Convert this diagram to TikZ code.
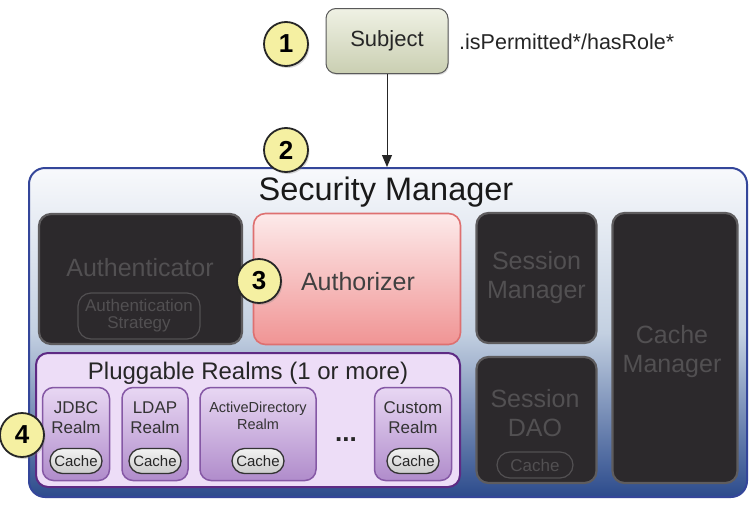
\documentclass[tikz,border=0pt]{standalone}
\usepackage{fontspec}
\setmainfont{Liberation Sans}
\usetikzlibrary{arrows.meta,shadows}
\definecolor{smtop}{HTML}{F8F9FC}
\definecolor{smmid}{HTML}{C3D0E1}
\definecolor{smbot}{HTML}{2C4B8C}
\definecolor{smline}{HTML}{34469A}
\definecolor{darkfill}{HTML}{2C292C}
\definecolor{darkline}{HTML}{5E5C5E}
\definecolor{darktext}{HTML}{525052}
\definecolor{pinktop}{HTML}{FDEAEA}
\definecolor{pinkbot}{HTML}{F09494}
\definecolor{pinkline}{HTML}{DE7070}
\definecolor{lavfill}{HTML}{EDDDF7}
\definecolor{lavline}{HTML}{5E2A84}
\definecolor{realmtop}{HTML}{E8D7F3}
\definecolor{realmbot}{HTML}{B08CCB}
\definecolor{realmline}{HTML}{8558A5}
\definecolor{subjtop}{HTML}{EFF1E4}
\definecolor{subjbot}{HTML}{CACFB2}
\definecolor{numfill}{HTML}{F5F0A2}
\begin{document}
\begin{tikzpicture}[x=1pt,y=-1pt,
  every node/.style={font=\fontsize{20}{22}\selectfont, align=center, inner sep=0pt},
  numcircle/.style={circle, draw=black!85, line width=1.8pt, fill=numfill, minimum size=44pt,
     font=\fontsize{26}{28}\selectfont\bfseries, drop shadow={shadow xshift=1.5pt, shadow yshift=-2pt, opacity=0.3}},
  subjbox/.style={rectangle, rounded corners=10pt, draw=black!65, line width=1pt, top color=subjtop, bottom color=subjbot,
     minimum width=122pt, minimum height=65pt, font=\fontsize{22}{24}\selectfont, text=black!85,
     drop shadow={shadow xshift=1pt, shadow yshift=-1.5pt, opacity=0.25}},
  smbox/.style={rectangle, rounded corners=16pt, draw=smline, line width=2pt, top color=smtop, bottom color=smbot, middle color=smmid},
  darkbox/.style={rectangle, rounded corners=12pt, draw=darkline, line width=2.2pt, fill=darkfill, text=darktext,
     font=\fontsize{25}{29}\selectfont},
  pinkbox/.style={rectangle, rounded corners=12pt, draw=pinkline, line width=1.6pt, top color=pinktop, bottom color=pinkbot},
  lavbox/.style={rectangle, rounded corners=12pt, draw=lavline, line width=2pt, fill=lavfill},
  realmbox/.style={rectangle, rounded corners=11pt, draw=realmline, line width=1.5pt, top color=realmtop, bottom color=realmbot},
  realmtext/.style={font=\fontsize{17}{20}\selectfont, text=black!80},
  cachepill/.style={rectangle, rounded corners=12.5pt, draw=black!80, line width=1.3pt, top color=white!95!black, bottom color=black!20,
     minimum width=52pt, minimum height=25pt, font=\fontsize{15}{16}\selectfont, text=black!85},
  darkpill/.style={rectangle, rounded corners=13pt, draw=darktext, line width=1.2pt, text=darktext},
  conn/.style={-{Triangle[length=12pt,width=10pt]}, line width=1pt, draw=black!85}
]
\useasboundingbox (0,0) rectangle (751,506);
\fill[white] (0,0) rectangle (751,506);

% Subject
\node[subjbox] (subject) at (387,41) {Subject};
\node[anchor=west, text=black!85, font=\fontsize{21.5}{24}\selectfont] (perm) at (459,42) {.isPermitted*/hasRole*};
\node[numcircle] (n1) at (286,44) {1};

% Security manager
\node[smbox, minimum width=718pt, minimum height=329pt] (sm) at (388,332.5) {};
\node[font=\fontsize{32.5}{36}\selectfont, text=black!90] (smtitle) at (386,192) {Security Manager};
\draw[conn] (subject.south) -- (subject.south |- sm.north);
\node[numcircle] (n2) at (286,150) {2};

% Authenticator
\node[darkbox, minimum width=203pt, minimum height=130pt] (authn) at (140.5,279) {};
\node[darkbox, draw=none, fill=none] (authntext) at (140,268) {Authenticator};
\node[darkpill, minimum width=122pt, minimum height=46pt, font=\fontsize{17}{17}\selectfont] (strategy) at (139,316) {Authentication\\Strategy};

% Authorizer
\node[pinkbox, minimum width=207pt, minimum height=131pt] (authz) at (357,279) {};
\node[text=black!75, font=\fontsize{25}{29}\selectfont] (authztext) at (358,282) {Authorizer};
\node[numcircle] (n3) at (259,281) {3};

% Session manager
\node[darkbox, minimum width=120pt, minimum height=130pt] (sessmgr) at (536.5,278) {Session\\Manager};
% Session DAO
\node[darkbox, minimum width=120pt, minimum height=126pt] (sessdao) at (536.5,420) {};
\node[darkbox, draw=none, fill=none] (sessdaotext) at (535,413) {Session\\DAO};
\node[darkpill, minimum width=76pt, minimum height=26pt, font=\fontsize{17}{17}\selectfont] (daocache) at (535,465) {Cache};
% Cache manager
\node[darkbox, minimum width=125pt, minimum height=270pt] (cachemgr) at (675,348) {};
\node[darkbox, draw=none, fill=none] (cachemgrtext) at (672,352) {Cache\\Manager};

% Pluggable realms
\node[lavbox, minimum width=424pt, minimum height=134pt] (realms) at (248,420) {};
\node[font=\fontsize{24}{26}\selectfont, text=black!85] (realmstitle) at (248,373) {Pluggable Realms (1 or more)};

\node[realmbox, minimum width=67pt, minimum height=93pt] (jdbc) at (76,434) {};
\node[realmbox, minimum width=66pt, minimum height=93pt] (ldap) at (155,434) {};
\node[realmbox, minimum width=116pt, minimum height=93pt] (ad) at (258,434) {};
\node[realmbox, minimum width=77pt, minimum height=93pt] (custom) at (413,434) {};

\node[realmtext] (jdbct) at (76,418) {JDBC\\Realm};
\node[realmtext] (ldapt) at (155,418) {LDAP\\Realm};
\node[realmtext, font=\fontsize{14.5}{17}\selectfont] (adt) at (258,416) {ActiveDirectory\\Realm};
\node[realmtext] (customt) at (413,418) {Custom\\Realm};

\node[cachepill] (c1) at (76,461) {Cache};
\node[cachepill] (c2) at (155,461) {Cache};
\node[cachepill] (c3) at (258,461) {Cache};
\node[cachepill] (c4) at (413,461) {Cache};

\node[font=\fontsize{26}{26}\selectfont\bfseries, text=black!85] (dots) at (346,440) {...};
\node[numcircle] (n4) at (22,435) {4};
\end{tikzpicture}
\end{document}
